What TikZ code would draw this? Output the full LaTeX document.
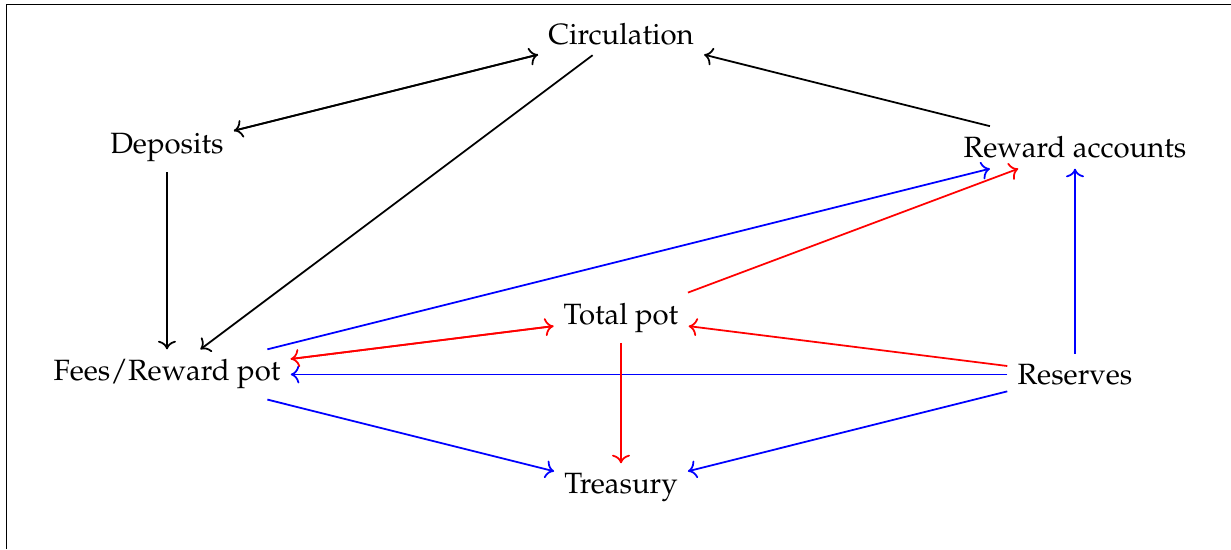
\documentclass[tikz,border=0pt]{standalone}
\usepackage[T1]{fontenc}
\usepackage{mathpazo}
\usetikzlibrary{arrows.meta}
\tikzset{
  flow/frame/.style={draw=black, line width=0.6pt},
  flow/arrow/.style={->, draw=black, semithick},
  flow/blue arrow/.style={flow/arrow, draw=blue},
  flow/red arrow/.style={flow/arrow, draw=red},
}

\begin{document}
\begin{tikzpicture}[x=1.36cm, y=1.36cm]
  \useasboundingbox (-5.471,-0.538) rectangle (5.374,4.299);
  % ---------------- frame ----------------
  \draw[flow/frame] (-5.414,-0.538) -- (-5.414,4.259) -- (5.374,4.259);

  % ---------------- accounts ----------------
  \node (circ) at (0,4) {Circulation};
  \node (deposits) at (-4,3) {Deposits};
  \node (rewards) at (4,3) {Reward accounts};
  \node (pot) at (0,1.5) {Total pot};
  \node (fees) at (-4,1) {Fees/Reward pot};
  \node (reserves) at (4,1) {Reserves};
  \node (treasury) at (0,0) {Treasury};

  % ---------------- circulation ----------------
  \draw[flow/arrow] (deposits) -- (circ);
  \draw[flow/arrow] (circ) -- (deposits);
  \draw[flow/arrow] (circ) -- (fees);
  \draw[flow/arrow] (rewards) -- (circ);
  \draw[flow/arrow] (deposits) -- (fees);

  % ---------------- fees ----------------
  \draw[flow/blue arrow] (fees) -- (rewards);
  \draw[flow/blue arrow] (reserves) -- (fees);
  \draw[flow/blue arrow] (fees) -- (treasury);
  \draw[flow/blue arrow] (reserves) -- (treasury);
  \draw[flow/blue arrow] (reserves) -- (rewards);

  % ---------------- total pot ----------------
  \draw[flow/red arrow] (pot) -- (rewards);
  \draw[flow/red arrow] (reserves) -- (pot);
  \draw[flow/red arrow] (pot) -- (fees);
  \draw[flow/red arrow] (fees) -- (pot);
  \draw[flow/red arrow] (pot) -- (treasury);

\end{tikzpicture}
\end{document}
